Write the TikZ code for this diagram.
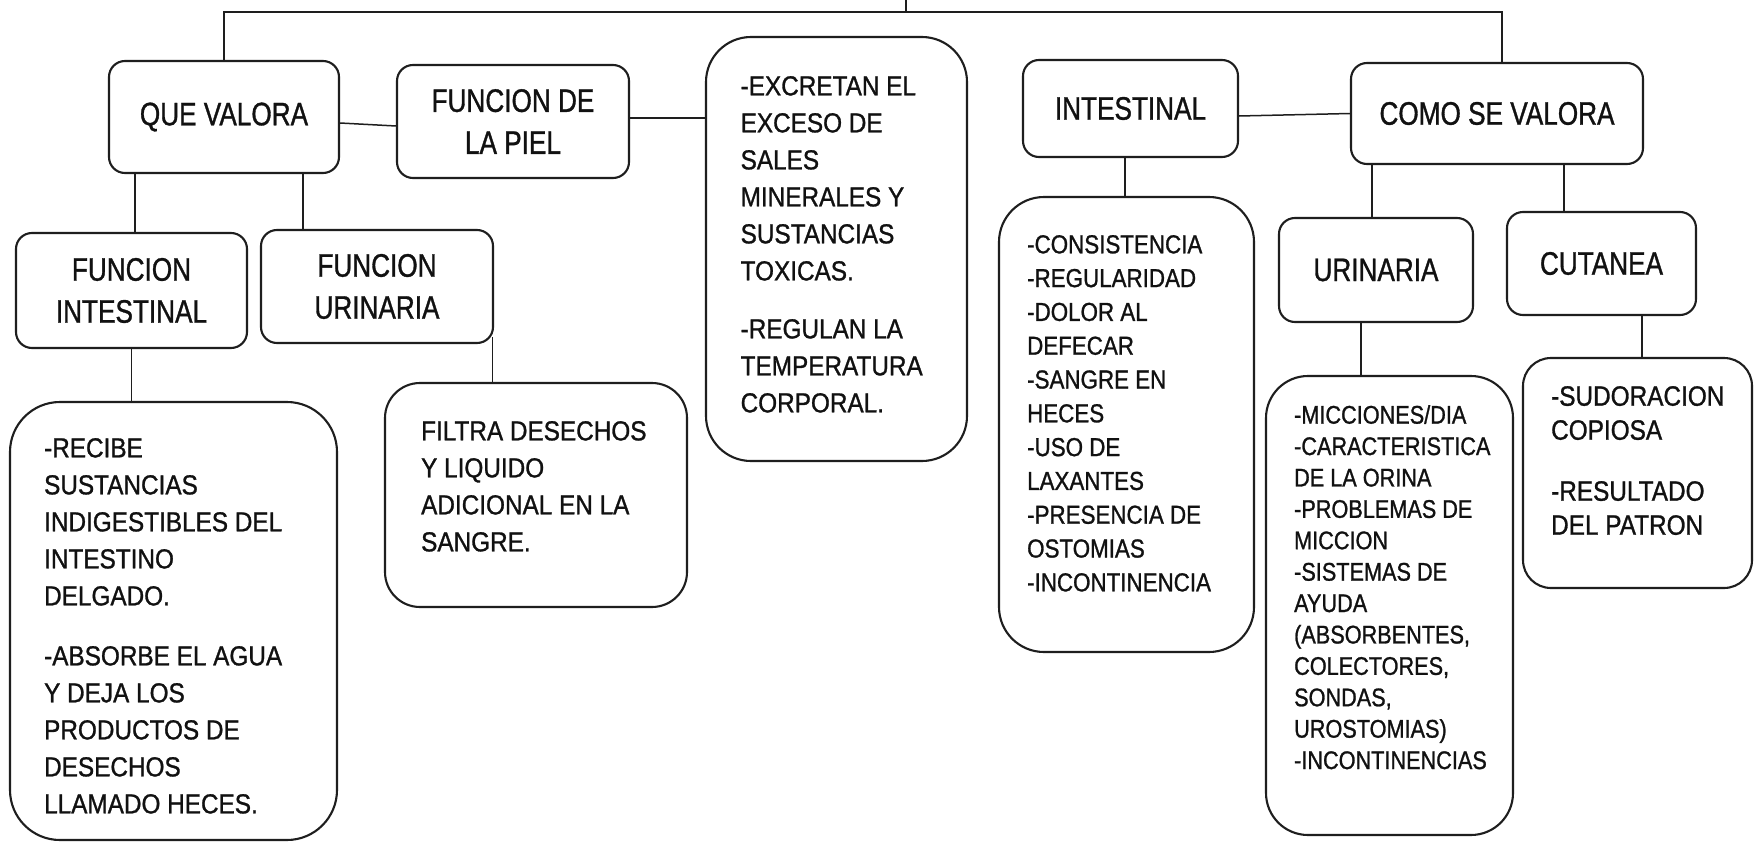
\documentclass[tikz,border=0pt]{standalone}
\usepackage{fontspec}
\setmainfont{Liberation Sans}
\newfontfamily\titlef[FakeStretch=0.805,FakeBold=1]{Liberation Sans}
\newfontfamily\bodyf[FakeStretch=0.885,FakeBold=1]{Liberation Sans}
\newfontfamily\listf[FakeStretch=0.86,FakeBold=1]{Liberation Sans}
\newfontfamily\smallf[FakeStretch=0.85,FakeBold=1]{Liberation Sans}
\newfontfamily\sudf[FakeStretch=0.87,FakeBold=1]{Liberation Sans}
\usetikzlibrary{calc}
\definecolor{ink}{HTML}{111111}
\definecolor{edge}{HTML}{1E1E1E}
\tikzset{
  box/.style={draw=edge, line width=2.1pt, rounded corners=#1, inner sep=0pt, fill=white},
  box/.default=16pt,
  title/.style={box=16pt, font=\titlef\fontsize{32.5}{42}\selectfont, align=center, text=ink},
  conn/.style={draw=edge, line width=1.5pt},
  bodyt/.style={inner sep=0pt, align=left, text=ink, font=\bodyf\fontsize{27.5}{37}\selectfont},
  sudt/.style={inner sep=0pt, align=left, text=ink, font=\sudf\fontsize{28}{34}\selectfont},
  listt/.style={inner sep=0pt, align=left, text=ink, font=\listf\fontsize{26}{33.8}\selectfont},
  smallt/.style={inner sep=0pt, align=left, text=ink, font=\smallf\fontsize{25.5}{31.4}\selectfont}
}
\begin{document}
\begin{tikzpicture}[x=1pt,y=-1pt]
\fill[white] (0,0) rectangle (1754,843);
\useasboundingbox (0,0) rectangle (1754,843);

% title boxes
\node[title, minimum width=230pt, minimum height=112pt] (qv) at (224,117) {QUE VALORA};
\node[title, minimum width=232pt, minimum height=113pt] (piel) at (513,121.5) {FUNCION DE\\LA PIEL};
\node[title, minimum width=215pt, minimum height=97pt] (intes) at (1130.5,108.5) {INTESTINAL};
\node[title, minimum width=292pt, minimum height=101pt] (como) at (1497,113.5) {COMO SE VALORA};
\node[title, minimum width=231pt, minimum height=115pt] (fi) at (131.5,290.5) {FUNCION\\INTESTINAL};
\node[title, minimum width=232pt, minimum height=113pt] (fu) at (377,286.5) {FUNCION\\URINARIA};
\node[title, minimum width=194pt, minimum height=104pt] (urin) at (1376,270) {URINARIA};
\node[title, minimum width=189pt, minimum height=103pt] (cut) at (1601.5,263.5) {CUTANEA};

% big boxes
\node[box=45pt, minimum width=261pt, minimum height=424pt] (exc) at (836.5,249) {};
\node[box=50pt, minimum width=327pt, minimum height=438pt] (recibe) at (173.5,621) {};
\node[box=35pt, minimum width=302pt, minimum height=224pt] (filtra) at (536,495) {};
\node[box=45pt, minimum width=255pt, minimum height=455pt] (cons) at (1126.5,424.5) {};
\node[box=42pt, minimum width=247pt, minimum height=459pt] (micc) at (1389.5,605.5) {};
\node[box=28pt, minimum width=229pt, minimum height=230pt] (sud) at (1637.5,473) {};

% texts of big boxes
\node[bodyt, anchor=north west] (exct) at ([xshift=35.5pt,yshift=-40pt]exc.north west)
  {-EXCRETAN EL\\EXCESO DE\\SALES\\MINERALES Y\\SUSTANCIAS\\TOXICAS.\\[21pt]-REGULAN LA\\TEMPERATURA\\CORPORAL.};
\node[bodyt, anchor=north west] (recibet) at ([xshift=35pt,yshift=-37pt]recibe.north west)
  {-RECIBE\\SUSTANCIAS\\INDIGESTIBLES DEL\\INTESTINO\\DELGADO.\\[23pt]-ABSORBE EL AGUA\\Y DEJA LOS\\PRODUCTOS DE\\DESECHOS\\LLAMADO HECES.};
\node[bodyt, anchor=north west] (filtrat) at ([xshift=37pt,yshift=-39pt]filtra.north west)
  {FILTRA DESECHOS\\Y LIQUIDO\\ADICIONAL EN LA\\SANGRE.};
\node[listt, anchor=north west] (const) at ([xshift=29pt,yshift=-39pt]cons.north west)
  {-CONSISTENCIA\\-REGULARIDAD\\-DOLOR AL\\DEFECAR\\-SANGRE EN\\HECES\\-USO DE\\LAXANTES\\-PRESENCIA DE\\OSTOMIAS\\-INCONTINENCIA};
\node[smallt, anchor=north west] (micct) at ([xshift=29pt,yshift=-30pt]micc.north west)
  {-MICCIONES/DIA\\-CARACTERISTICA\\DE LA ORINA\\-PROBLEMAS DE\\MICCION\\-SISTEMAS DE\\AYUDA\\(ABSORBENTES,\\COLECTORES,\\SONDAS,\\UROSTOMIAS)\\-INCONTINENCIAS};
\node[sudt, anchor=north west] (sudtx) at ([xshift=29pt,yshift=-29pt]sud.north west)
  {-SUDORACION\\COPIOSA\\[27pt]-RESULTADO\\DEL PATRON};

% connectors
\coordinate (stub) at (906,0);
\coordinate (bus) at (906,12);
\path ([xshift=5pt]como.north) coordinate (cn);
\draw[conn] (qv.north) -- (qv.north |- bus) -- (cn |- bus) -- (cn);
\draw[conn] (stub) -- (bus);
\draw[conn] ([yshift=-6pt]qv.east) -- ([yshift=-4.5pt]piel.west);
\path ([yshift=3.5pt]piel.east) coordinate (pe);
\draw[conn] (pe) -- (pe -| exc.west);
\draw[conn] ([yshift=-7.5pt]intes.east) -- (como.west);
\path ([xshift=3.5pt]fi.north) coordinate (a1);
\draw[conn] (a1 |- qv.south) -- (a1);
\path ([xshift=-74pt]fu.north) coordinate (a2);
\draw[conn] (a2 |- qv.south) -- (a2);
\draw[conn] (fi.south) -- (fi.south |- recibe.north);
\path ([xshift=-1.5pt,yshift=7pt]fu.south east) coordinate (a3);
\draw[conn] (a3) -- (a3 |- filtra.north);
\path ([xshift=-5.5pt]intes.south) coordinate (a4);
\draw[conn] (a4) -- (a4 |- cons.north);
\path ([xshift=-4pt]urin.north) coordinate (a5);
\draw[conn] (a5 |- como.south) -- (a5);
\path ([xshift=-37.5pt]cut.north) coordinate (a6);
\draw[conn] (a6 |- como.south) -- (a6);
\path ([xshift=-15pt]urin.south) coordinate (a7);
\draw[conn] (a7) -- (a7 |- micc.north);
\path ([xshift=40.5pt]cut.south) coordinate (a8);
\draw[conn] (a8) -- (a8 |- sud.north);
\end{tikzpicture}
\end{document}
